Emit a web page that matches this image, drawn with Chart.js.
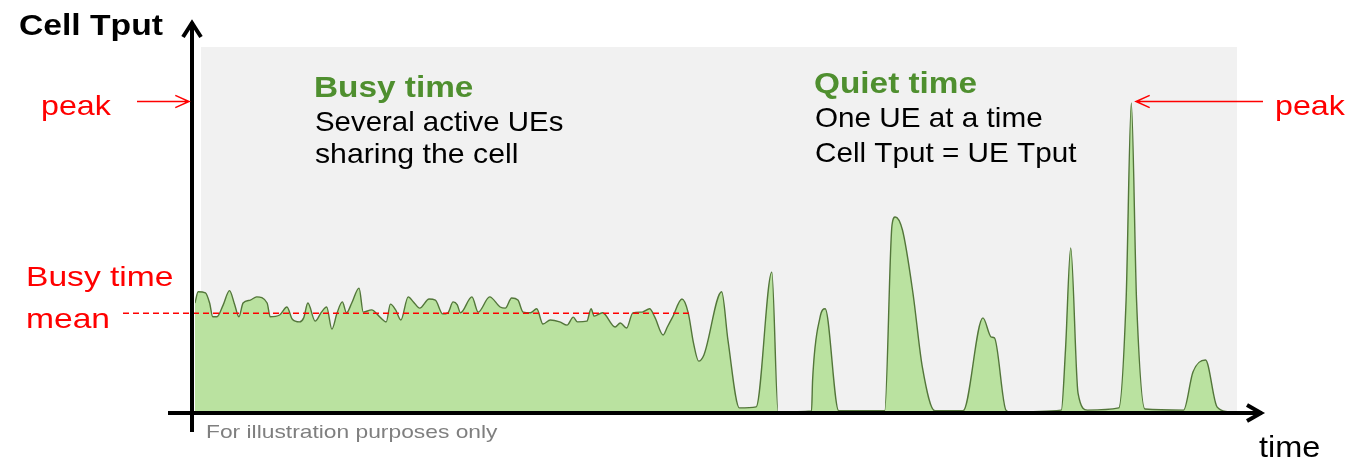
<!DOCTYPE html>
<html>
<head>
<meta charset="utf-8">
<script src="https://cdn.jsdelivr.net/npm/chart.js@4"></script>
<style>
  body { margin: 0; background: #ffffff; }
  #wrap { width: 1365px; height: 464px; }
</style>
</head>
<body>
<div id="wrap"><canvas id="tput" width="1365" height="464"></canvas></div>
<script>
// time axis (arbitrary units, 0..100)
var timeValues = [0, 0.3, 1.0, 1.4, 1.7, 2.1, 2.7, 3.3, 3.8, 4.2, 4.6, 5.3, 5.9, 6.9, 7.2, 8.1, 8.8, 9.3,
  10.0, 10.4, 10.8, 11.5, 12.1, 12.6, 13.1, 13.6, 14.1, 14.5, 15.0, 15.7, 16.1, 16.9, 17.7, 18.3, 18.7,
  19.2, 19.7, 20.4, 20.9, 21.5, 22.4, 23.0, 23.7, 24.2, 24.7, 25.1, 25.4, 26.5, 27.1, 28.2, 29.2, 29.7,
  30.3, 30.9, 31.4, 32.1, 32.7, 33.3, 34.0, 34.9, 35.6, 36.2, 36.6, 37.5, 37.9, 38.2, 39.0, 40.2, 40.7,
  41.3, 41.9, 42.8, 43.5, 44.0, 44.8, 45.2, 45.7, 46.6, 47.2, 47.7, 48.2, 48.7, 50.4, 51.0, 52.1, 53.7,
  55.2, 55.8, 59.0, 59.1, 59.8, 60.3, 61.6, 66.0, 66.7, 67.0, 67.7, 68.7, 69.6, 70.8, 73.5, 75.4, 76.2,
  76.5, 77.6, 78.0, 82.9, 83.3, 83.8, 84.5, 85.4, 88.4, 89.1, 89.6, 90.1, 90.9, 94.6, 95.5, 96.7, 97.8, 98.9];

// cell throughput (arbitrary units, 0..100)
var tputValues = [30.3, 33.4, 33.1, 30.3, 26.5, 26.5, 29.8, 33.7, 29.8, 26.5, 30.3, 31.1, 32.0, 30.3, 26.5,
  27.0, 29.2, 25.9, 25.1, 26.2, 30.3, 25.3, 27.8, 29.2, 23.1, 27.6, 30.6, 27.6, 30.3, 34.4, 27.8, 28.4,
  26.4, 25.1, 30.0, 28.4, 25.6, 32.0, 30.6, 28.9, 31.4, 31.1, 27.3, 27.6, 30.6, 29.8, 27.6, 32.0, 27.8,
  32.0, 29.2, 28.9, 31.7, 31.1, 27.8, 27.6, 28.7, 24.5, 25.6, 25.1, 24.2, 26.4, 25.1, 25.3, 28.7, 26.7,
  27.6, 23.7, 24.8, 23.4, 27.6, 27.8, 28.7, 26.4, 21.5, 23.7, 26.4, 31.4, 27.6, 19.3, 14.3, 16.0, 33.4,
  20.1, 1.4, 1.7, 38.8, 0.3, 0.6, 9.1, 26.2, 28.7, 0.6, 0.6, 51.8, 54.0, 50.4, 33.1, 12.7, 0.6, 0.6,
  26.2, 20.9, 20.7, 0.8, 0.3, 0.8, 17.4, 45.5, 5.5, 0.8, 1.4, 31.1, 85.4, 31.1, 1.1, 0.8, 11.3, 14.6, 1.7, 0.3];

var busyMean = 27.5;
var busyEnd = 47.4;

var points = [];
for (var i = 0; i < timeValues.length; i++) {
  points.push({ x: timeValues[i], y: tputValues[i] });
}

var FONT = '"Liberation Sans", Arial, sans-serif';

function stretchText(ctx, txt, x, y, font, color, sx) {
  ctx.save();
  ctx.font = font;
  ctx.fillStyle = color;
  ctx.textBaseline = 'alphabetic';
  ctx.textAlign = 'left';
  ctx.translate(x, y);
  ctx.scale(sx, 1);
  ctx.fillText(txt, 0, 0);
  ctx.restore();
}

function arrowLine(ctx, x1, y1, x2, y2, head, color, width) {
  // arrow pointing to (x2, y2)
  var a = Math.atan2(y2 - y1, x2 - x1);
  ctx.save();
  ctx.strokeStyle = color;
  ctx.lineWidth = width;
  ctx.beginPath();
  ctx.moveTo(x1, y1);
  ctx.lineTo(x2, y2);
  ctx.moveTo(x2 - head * Math.cos(a - 0.42), y2 - head * Math.sin(a - 0.42));
  ctx.lineTo(x2, y2);
  ctx.lineTo(x2 - head * Math.cos(a + 0.42), y2 - head * Math.sin(a + 0.42));
  ctx.stroke();
  ctx.restore();
}

var decor = {
  id: 'decor',
  beforeDatasetsDraw: function(chart) {
    var ctx = chart.ctx, ca = chart.chartArea;
    ctx.save();
    ctx.fillStyle = '#f1f1f1';
    ctx.fillRect(ca.left + 6, ca.top - 3, ca.right - ca.left - 9, ca.bottom - ca.top + 3);
    ctx.restore();
  },
  afterDatasetsDraw: function(chart) {
    var ctx = chart.ctx, ca = chart.chartArea;
    var xs = chart.scales.x, ys = chart.scales.y;

    // busy-time mean
    var my = ys.getPixelForValue(busyMean);
    ctx.save();
    ctx.strokeStyle = '#ff0000';
    ctx.lineWidth = 1.6;
    ctx.setLineDash([6, 4]);
    ctx.beginPath();
    ctx.moveTo(123, my);
    ctx.lineTo(xs.getPixelForValue(busyEnd), my);
    ctx.stroke();
    ctx.restore();

    // axes
    var ax = ca.left - 3, ay = ca.bottom;
    ctx.save();
    ctx.strokeStyle = '#000000';
    ctx.lineWidth = 4;
    ctx.lineJoin = 'miter';
    ctx.beginPath();
    ctx.moveTo(ax, 432);
    ctx.lineTo(ax, 22);
    ctx.moveTo(ax - 9, 37);
    ctx.lineTo(ax, 23);
    ctx.lineTo(ax + 9, 37);
    ctx.moveTo(168, ay);
    ctx.lineTo(1262, ay);
    ctx.moveTo(1247, ay - 8);
    ctx.lineTo(1261, ay);
    ctx.lineTo(1247, ay + 8);
    ctx.stroke();
    ctx.restore();

    // peak arrows
    var py = 101.5;
    arrowLine(ctx, 137, py, 189, py, 15, '#ff0000', 1.5);
    arrowLine(ctx, 1263, py, 1136, py, 15, '#ff0000', 1.5);

    // texts
    stretchText(ctx, 'Cell Tput', 19, 35, 'bold 29px ' + FONT, '#000000', 1.16);
    stretchText(ctx, 'peak', 41, 115, '28px ' + FONT, '#ff0000', 1.15);
    stretchText(ctx, 'peak', 1275, 115, '28px ' + FONT, '#ff0000', 1.15);
    stretchText(ctx, 'Busy time', 26, 286, '28px ' + FONT, '#ff0000', 1.2);
    stretchText(ctx, 'mean', 26, 328, '28px ' + FONT, '#ff0000', 1.2);

    stretchText(ctx, 'Busy time', 314, 97, 'bold 29px ' + FONT, '#4f8f2f', 1.15);
    stretchText(ctx, 'Several active UEs', 315, 131, '28px ' + FONT, '#000000', 1.05);
    stretchText(ctx, 'sharing the cell', 315, 163, '28px ' + FONT, '#000000', 1.08);

    stretchText(ctx, 'Quiet time', 814, 93, 'bold 29px ' + FONT, '#4f8f2f', 1.15);
    stretchText(ctx, 'One UE at a time', 815, 127, '28px ' + FONT, '#000000', 1.06);
    stretchText(ctx, 'Cell Tput = UE Tput', 815, 162, '28px ' + FONT, '#000000', 1.06);

    stretchText(ctx, 'For illustration purposes only', 206, 438, '19px ' + FONT, '#7f7f7f', 1.2);
    stretchText(ctx, 'time', 1259, 457, '29px ' + FONT, '#000000', 1.12);
  }
};

var chart = new Chart(document.getElementById('tput').getContext('2d'), {
  type: 'line',
  data: {
    datasets: [{
      label: 'Cell Tput',
      data: points,
      borderColor: '#53763a',
      borderWidth: 1.4,
      backgroundColor: '#bae2a0',
      fill: 'origin',
      pointRadius: 0,
      cubicInterpolationMode: 'monotone'
    }]
  },
  options: {
    responsive: false,
    animation: false,
    layout: { padding: { left: 195, right: 125, top: 50, bottom: 51 } },
    scales: {
      x: { type: 'linear', min: 0, max: 100, display: false },
      y: { min: 0, max: 100, display: false }
    },
    plugins: {
      legend: { display: false },
      tooltip: { enabled: false }
    }
  },
  plugins: [decor]
});
</script>
</body>
</html>
